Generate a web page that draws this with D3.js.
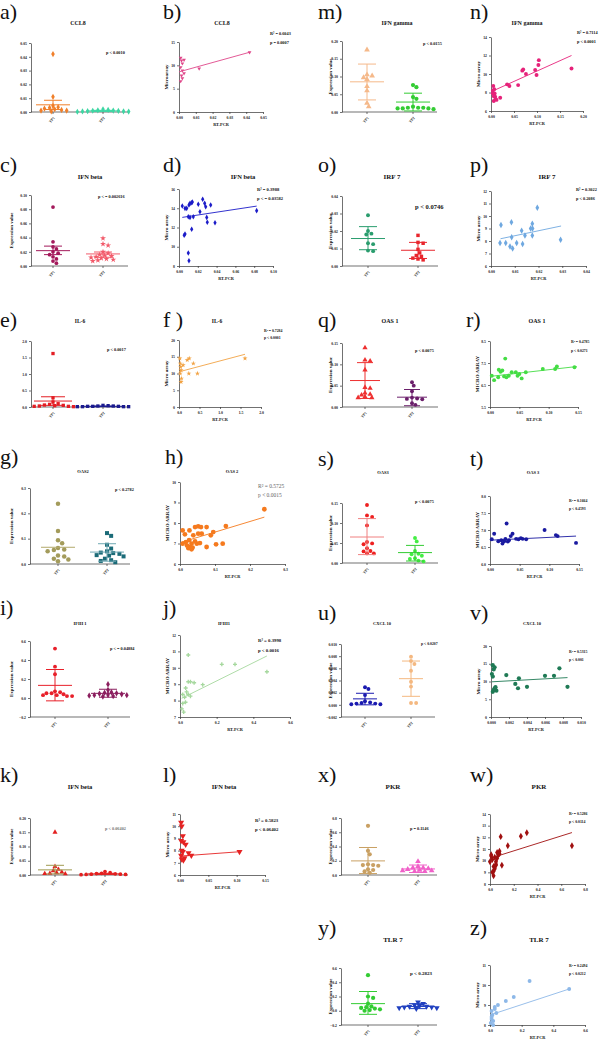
<!DOCTYPE html>
<html><head><meta charset="utf-8">
<script src="https://cdn.jsdelivr.net/npm/d3@7"></script>
<style>body{margin:0;background:#fff}svg{display:block}</style>
</head><body><svg id="c" width="600" height="1041"></svg>
<script>
// ---------------- DATA ----------------
const groups = ["TP1", "TP2"];
// a) CCL8
const a_TP1 = [0.042, 0.011, 0.0045, 0.0035, 0.003, 0.0025, 0.002, 0.0015, 0.001, 0.001, 0.0005];
const a_TP2 = [0.002, 0.0015, 0.0012, 0.001, 0.0009, 0.0008, 0.0006, 0.0005, 0.0004, 0.0003, 0.0002];
const a_mean = [0.0052, 0.0008], a_lo = [0.0018, 0.0004], a_hi = [0.0085, 0.0012];
const a_ticks = [0, 0.01, 0.02, 0.03, 0.04, 0.05];
// b) CCL8 regression
const b_x = [0.001, 0.0015, 0.002, 0.001, 0.002, 0.003, 0.0015, 0.002, 0.001, 0.003, 0.012, 0.042];
const b_y = [11.6, 11.0, 10.4, 9.6, 8.9, 8.3, 7.8, 7.2, 6.6, 11.2, 9.3, 12.8];
const b_fit = [8.6, 100, 0, 0.042];
const b_xticks = [0, 0.01, 0.02, 0.03, 0.04, 0.05], b_yticks = [0, 5, 10, 15];
// c) IFN beta
const c_TP1 = [0.083, 0.034, 0.027, 0.024, 0.02, 0.018, 0.016, 0.013, 0.01, 0.007, 0.004];
const c_TP2 = [0.039, 0.031, 0.029, 0.02, 0.018, 0.016, 0.015, 0.014, 0.013, 0.012, 0.011, 0.01, 0.009, 0.008, 0.007];
const c_mean = [0.0216, 0.017], c_lo = [0.016, 0.0123], c_hi = [0.028, 0.0197];
const c_ticks = [0, 0.02, 0.04, 0.06, 0.08, 0.10];
// d) IFN beta regression
const d_x = [0.0035, 0.0064, 0.0106, 0.0117, 0.0135, 0.0142, 0.0082, 0.0205, 0.0252, 0.0273, 0.0284, 0.0337, 0.0223, 0.0099, 0.0117, 0.0152, 0.0295, 0.0301, 0.0383, 0.0135, 0.0064, 0.0826, 0.0055, 0.0099, 0.0106];
const d_y = [14.23, 13.99, 14.34, 14.51, 14.58, 14.65, 13.99, 14.41, 14.93, 14.51, 14.16, 14.34, 13.64, 13.12, 13.05, 13.12, 13.05, 12.54, 12.50, 11.81, 11.32, 13.75, 11.19, 9.35, 8.55];
const d_fit = [13.0, 14.8, 0.0035, 0.0826];
const d_xticks = [0, 0.02, 0.04, 0.06, 0.08, 0.10], d_yticks = [8, 10, 12, 14, 16];
// e) IL-6
const e_TP1 = [1.62, 0.28, 0.15, 0.1, 0.08, 0.06, 0.05, 0.04, 0.03, 0.02, 0.02, 0.01];
const e_TP2 = [0.05, 0.04, 0.03, 0.03, 0.02, 0.02, 0.02, 0.01, 0.01, 0.01, 0.01];
const e_mean = [0.18, 0.02], e_lo = [0.05, 0.01], e_hi = [0.31, 0.03];
const e_ticks = [0, 0.5, 1.0, 1.5, 2.0];
// f) IL-6 regression
const f_x = [0.02, 0.03, 0.04, 0.05, 0.03, 0.06, 0.05, 0.1, 0.2, 0.25, 0.35, 0.45, 0.24, 1.61];
const f_y = [14.5, 13, 12, 11, 10, 8.5, 7.5, 12.5, 14, 14.5, 13, 10, 10, 14.5];
const f_fit = [10.5, 3.25, 0, 1.61];
const f_xticks = [0, 0.5, 1.0, 1.5, 2.0], f_yticks = [0, 5, 10, 15, 20];
// g) OAS2
const g_TP1 = [0.238, 0.13, 0.094, 0.082, 0.063, 0.057, 0.055, 0.05, 0.034, 0.03, 0.021, 0.018, 0.011];
const g_TP2 = [0.122, 0.111, 0.076, 0.061, 0.05, 0.045, 0.043, 0.04, 0.035, 0.033, 0.03, 0.021, 0.015, 0.012, 0.007];
const g_mean = [0.066, 0.047], g_lo = [null, 0.011], g_hi = [null, 0.08];
const g_ticks = [0, 0.1, 0.2, 0.3];
// h) OAS 2 regression
const h_x = [0.0076, 0.026, 0.017, 0.0076, 0.027, 0.038, 0.043, 0.052, 0.06, 0.052, 0.062, 0.029, 0.033, 0.024, 0.033, 0.048, 0.043, 0.076, 0.088, 0.095, 0.076, 0.103, 0.122, 0.131, 0.241, 0.014, 0.057, 0.02, 0.036];
const h_y = [7.64, 7.16, 7.07, 6.99, 7.64, 7.40, 7.80, 7.84, 7.80, 7.48, 7.48, 6.83, 6.72, 6.77, 6.99, 6.99, 7.1, 7.80, 7.40, 7.56, 6.83, 6.96, 6.99, 7.85, 8.67, 7.45, 7.02, 6.9, 6.8];
const h_fit = [7.04, 5.17, 0.005, 0.241];
const h_xticks = [0, 0.1, 0.2, 0.3], h_yticks = [6, 7, 8, 9, 10];
// i) IFIH 1
const i_TP1 = [0.52, 0.33, 0.25, 0.07, 0.06, 0.05, 0.05, 0.04, 0.03, 0.03, 0.02, 0.02];
const i_TP2 = [0.145, 0.085, 0.06, 0.055, 0.05, 0.045, 0.04, 0.035, 0.03, 0.03, 0.025, 0.02, 0.015];
const i_mean = [0.133, 0.049], i_lo = [-0.03, 0.008], i_hi = [0.3, 0.092];
const i_ticks = [-0.2, 0, 0.2, 0.4, 0.6];
// j) IFIH1 regression
const j_x = [0.045, 0.045, 0.057, 0.077, 0.124, 0.031, 0.036, 0.015, 0.045, 0.057, 0.025, 0.015, 0.228, 0.30, 0.474, 0.01, 0.02, 0.03];
const j_y = [10.78, 9.15, 9.15, 9.09, 8.97, 8.77, 8.53, 8.37, 8.37, 8.27, 8.2, 7.83, 10.21, 10.21, 9.76, 7.5, 7.3, 7.9];
const j_fit = [8.09, 5.55, 0.009, 0.474];
const j_xticks = [0, 0.2, 0.4, 0.6], j_yticks = [7, 8, 9, 10, 11, 12];
// k) IFN beta
const k_TP1 = [0.15, 0.03, 0.02, 0.015, 0.01, 0.008, 0.006, 0.005, 0.004];
const k_TP2 = [0.012, 0.008, 0.006, 0.005, 0.004, 0.003, 0.003, 0.002, 0.002, 0.001];
const k_mean = [0.018, 0.004], k_lo = [0.004, 0.002], k_hi = [0.034, 0.006];
const k_ticks = [0, 0.05, 0.10, 0.15, 0.20];
// l) IFN beta regression
const l_x = [0.002, 0.003, 0.005, 0.002, 0.006, 0.01, 0.003, 0.005, 0.002, 0.008, 0.003, 0.006, 0.02, 0.015, 0.105];
const l_y = [10.3, 10.0, 9.2, 8.8, 8.7, 8.5, 8.0, 7.9, 7.6, 7.4, 7.3, 7.2, 7.6, 7.8, 7.9];
const l_fit = [7.55, 3.4, 0, 0.105];
const l_xticks = [0, 0.05, 0.10, 0.15], l_yticks = [6, 7, 8, 9, 10, 11];
// m) IFN gamma
const m_TP1 = [0.175, 0.105, 0.102, 0.097, 0.092, 0.072, 0.06, 0.025, 0.015];
const m_TP2 = [0.076, 0.07, 0.042, 0.037, 0.015, 0.012, 0.012, 0.01, 0.01, 0.008, 0.012, 0.01];
const m_mean = [0.085, 0.028], m_lo = [0.034, 0.003], m_hi = [0.135, 0.053];
const m_ticks = [0, 0.05, 0.10, 0.15, 0.20];
// n) IFN gamma regression
const n_x = [0.005, 0.007, 0.008, 0.009, 0.01, 0.02, 0.006, 0.012, 0.004, 0.006, 0.004, 0.035, 0.040, 0.059, 0.068, 0.07, 0.076, 0.096, 0.099, 0.103, 0.104, 0.175];
const n_y = [8.7, 8.35, 7.9, 7.55, 7.3, 7.44, 7.08, 7.2, 7.9, 7.6, 8.2, 8.88, 8.7, 8.8, 10.36, 10.5, 10.0, 10.43, 9.9, 10.97, 11.5, 10.6];
const n_fit = [8.08, 22.4, 0.005, 0.175];
const n_xticks = [0, 0.05, 0.10, 0.15, 0.20], n_yticks = [6, 8, 10, 12, 14];
// o) IRF 7
const o_TP1 = [0.029, 0.020, 0.0185, 0.018, 0.013, 0.0125, 0.0088, 0.0085];
const o_TP2 = [0.0175, 0.0135, 0.013, 0.0095, 0.0075, 0.006, 0.0055, 0.0045, 0.004, 0.0035];
const o_mean = [0.0157, 0.009], o_lo = [0.0093, 0.0043], o_hi = [0.0225, 0.0135];
const o_ticks = [0, 0.01, 0.02, 0.03, 0.04];
// p) IRF 7 regression
const p_x = [0.0042, 0.0086, 0.0129, 0.0167, 0.0175, 0.0174, 0.0195, 0.0038, 0.0062, 0.0087, 0.008, 0.0091, 0.0108, 0.0133, 0.0143, 0.0174, 0.0293];
const p_y = [9.28, 9.5, 8.83, 9.0, 9.0, 9.38, 10.66, 7.84, 7.84, 8.3, 7.56, 7.4, 7.84, 7.76, 8.44, 8.44, 8.1];
const p_fit = [8.02, 40, 0.004, 0.0295];
const p_xticks = [0, 0.01, 0.02, 0.03, 0.04], p_yticks = [6, 7, 8, 9, 10, 11, 12];
// q) OAS 1
const q_TP1 = [0.139, 0.11, 0.108, 0.087, 0.046, 0.044, 0.033, 0.03, 0.028, 0.024, 0.022, 0.022];
const q_TP2 = [0.058, 0.05, 0.037, 0.022, 0.02, 0.019, 0.018, 0.009, 0.005];
const q_mean = [0.062, 0.023], q_lo = [0.02, 0.003], q_hi = [0.104, 0.041];
const q_ticks = [0, 0.05, 0.10, 0.15];
// r) OAS 1 regression
const r_x = [0.003, 0.007, 0.014, 0.015, 0.018, 0.021, 0.026, 0.024, 0.028, 0.032, 0.037, 0.044, 0.047, 0.05, 0.054, 0.061, 0.09, 0.111, 0.114, 0.144];
const r_y = [6.92, 6.72, 6.85, 7.19, 7.1, 7.16, 7.7, 6.89, 6.85, 6.92, 7.08, 7.08, 6.92, 7.0, 6.8, 7.08, 7.23, 7.23, 7.34, 7.31];
const r_fit = [6.89, 3.04, 0, 0.148];
const r_xticks = [0, 0.05, 0.10, 0.15], r_yticks = [5.5, 6.5, 7.5, 8.5];
// s) OAS3
const s_TP1 = [0.145, 0.119, 0.115, 0.094, 0.0525, 0.047, 0.049, 0.037, 0.029, 0.03, 0.024, 0.024];
const s_TP2 = [0.0625, 0.054, 0.03, 0.023, 0.022, 0.018, 0.012, 0.01, 0.006, 0.004];
const s_mean = [0.065, 0.026], s_lo = [0.021, 0.005], s_hi = [0.111, 0.044];
const s_ticks = [0, 0.05, 0.10, 0.15];
// t) OAS 3 regression
const t_x = [0.003, 0.007, 0.014, 0.019, 0.021, 0.024, 0.026, 0.028, 0.03, 0.032, 0.035, 0.038, 0.044, 0.048, 0.052, 0.055, 0.061, 0.092, 0.111, 0.114, 0.145];
const t_y = [6.73, 6.89, 6.67, 6.70, 6.60, 6.67, 6.74, 7.19, 6.66, 6.70, 6.82, 6.89, 6.74, 6.73, 6.76, 6.74, 6.73, 7.0, 6.85, 6.82, 6.62];
const t_fit = [6.70, 0.83, 0, 0.145];
const t_xticks = [0, 0.05, 0.10, 0.15], t_yticks = [6.0, 6.5, 7.0, 7.5, 8.0];
// u) CXCL 10
const u_TP1 = [0.0029, 0.0026, 0.0016, 0.0006, 0.0004, 0.0003, 0.0002, 0.0002, 0.0001, 0.0001];
const u_TP2 = [0.0079, 0.0072, 0.0067, 0.0056, 0.0038, 0.003, 0.0003, 0.0003];
const u_mean = [0.00098, 0.0043], u_lo = [0.0, 0.0014], u_hi = [0.0019, 0.0072];
const u_ticks = [-0.002, 0, 0.002, 0.004, 0.006, 0.008, 0.010];
// v) CXCL 10 regression
const v_x = [0.0001, 0.0002, 0.0002, 0.0004, 0.0003, 0.0002, 0.0004, 0.0006, 0.0005, 0.0003, 0.0017, 0.0027, 0.003, 0.0031, 0.004, 0.006, 0.007, 0.0076, 0.0085];
const v_y = [12.1, 11.4, 14.6, 14.0, 13.4, 7.1, 8.1, 7.4, 8.4, 7.6, 11.8, 9.3, 8.1, 10.9, 8.5, 11.6, 11.6, 13.7, 8.5];
const v_fit = [9.9, 141, 0.0001, 0.0085];
const v_xticks = [0, 0.002, 0.004, 0.006, 0.008, 0.010], v_yticks = [0, 5, 10, 15, 20];
// x) PKR
const x_TP1 = [0.69, 0.34, 0.29, 0.15, 0.14, 0.14, 0.13, 0.08, 0.07, 0.05, 0.03];
const x_TP2 = [0.19, 0.12, 0.1, 0.1, 0.09, 0.08, 0.07, 0.06, 0.06, 0.05, 0.05];
const x_mean = [0.198, 0.085], x_lo = [0.02, 0.035], x_hi = [0.386, 0.14];
const x_ticks = [0, 0.2, 0.4, 0.6, 0.8];
// w) PKR regression
const w_x = [0.0, 0.01, 0.02, 0.03, 0.04, 0.05, 0.06, 0.07, 0.08, 0.1, 0.02, 0.03, 0.05, 0.04, 0.06, 0.09, 0.15, 0.26, 0.31, 0.69, 0.08, 0.01, 0.03, 0.05];
const w_y = [9.9, 10.4, 10.1, 9.5, 9.3, 9.7, 10.2, 10.5, 10.6, 9.6, 9.0, 8.7, 9.9, 10.3, 10.7, 12.06, 11.27, 12.1, 12.4, 11.27, 10.8, 10.5, 9.1, 9.6];
const w_fit = [10.2, 3.2, 0, 0.69];
const w_xticks = [0, 0.2, 0.4, 0.6, 0.8], w_yticks = [8, 9, 10, 11, 12, 13, 14];
// y) TLR 7
const y_TP1 = [0.5, 0.2, 0.18, 0.1, 0.06, 0.05, 0.04, 0.03, 0.02, 0.01, 0.0];
const y_TP2 = [0.12, 0.1, 0.08, 0.07, 0.06, 0.06, 0.05, 0.05, 0.04, 0.04, 0.03];
const y_mean = [0.1, 0.06], y_lo = [-0.05, 0.03], y_hi = [0.27, 0.1];
const y_ticks = [-0.2, 0, 0.2, 0.4, 0.6];
// z) TLR 7 regression
const z_x = [0.005, 0.01, 0.015, 0.02, 0.01, 0.03, 0.02, 0.04, 0.05, 0.01, 0.1, 0.15, 0.25, 0.5, 0.03];
const z_y = [8.1, 8.3, 8.5, 8.2, 8.7, 8.9, 8.0, 8.6, 9.0, 8.4, 9.2, 9.4, 10.2, 9.8, 8.8];
const z_fit = [8.5, 2.6, 0, 0.5];
const z_xticks = [0, 0.2, 0.4, 0.6], z_yticks = [8, 9, 10, 11];

// ---------------- DRAWING ----------------
const F = '"Liberation Serif","Times New Roman",serif';
const svg = d3.select("#c").attr("font-family", F);

const SYM = {
  circle: d3.symbolCircle, square: d3.symbolSquare, triangle: d3.symbolTriangle,
  diamond: d3.symbolDiamond, star: d3.symbolStar, cross: d3.symbolCross, tri2: d3.symbolTriangle
};
function sym(g, x, y, shape, color, size) {
  g.append("path").attr("d", d3.symbol().type(SYM[shape]).size(size)())
    .attr("transform", `translate(${x},${y})` + (shape === "tri2" ? " rotate(180)" : ""))
    .attr("fill", color);
}
function styleAxis(g, fs) {
  g.selectAll("text").attr("font-size", fs).attr("font-weight", "bold").attr("font-family", F).attr("fill", "#222");
  g.selectAll("path,line").attr("stroke", "#333").attr("stroke-width", 0.7);
}
function txt(s, x, y, fs, opt = {}) {
  const t = svg.append("text").attr("x", x).attr("y", y).attr("font-size", fs)
    .attr("font-weight", opt.weight || "bold").attr("fill", opt.color || "#111")
    .attr("text-anchor", opt.anchor || "start").text(s);
  if (opt.rot) t.attr("transform", `rotate(${opt.rot},${x},${y})`);
  return t;
}
function heading(p) {
  txt(p.lab, p.lx, p.ly, 22, { weight: "normal" });
  txt(p.title, p.tx, p.ty, p.tfs || 6, { anchor: "middle" });
}
function swarm(vals, y, cx, r) {
  const pts = vals.map(v => ({ v, py: y(v) })).sort((a, b) => a.py - b.py);
  const placed = [];
  pts.forEach(p => {
    let off = 0;
    for (let k = 0; k < 60; k++) {
      off = k === 0 ? 0 : (k % 2 ? 1 : -1) * Math.ceil(k / 2) * r * 0.9;
      const ok = placed.every(q => (q.px - (cx + off)) ** 2 + (q.py - p.py) ** 2 >= (2 * r) ** 2);
      if (ok) break;
    }
    p.px = cx + off; placed.push(p);
  });
  return placed;
}

function dotPanel(p) {
  heading(p);
  const g = svg.append("g");
  const y = d3.scaleLinear().domain(p.dom).range([p.yBot, p.yTop]);
  const x = d3.scalePoint().domain(groups).range(p.cx);
  const ya = g.append("g").attr("transform", `translate(${p.x0},0)`)
    .call(d3.axisLeft(y).tickValues(p.ticks).tickFormat(d3.format(p.fmt)).tickSize(2).tickPadding(2).tickSizeOuter(0));
  styleAxis(ya, 3.8);
  g.append("line").attr("x1", p.x0).attr("x2", p.x1).attr("y1", p.yBot).attr("y2", p.yBot).attr("stroke", "#333").attr("stroke-width", 0.7);
  groups.forEach((gr, gi) => {
    const cx = x(gr);
    g.append("line").attr("x1", cx).attr("x2", cx).attr("y1", p.yBot).attr("y2", p.yBot + 2).attr("stroke", "#333").attr("stroke-width", 0.7);
    txt(gr, cx + 2, p.yBot + 6, 3.8, { anchor: "end", rot: -50, color: "#333" });
    const col = p.col[gi], mc = (p.mcol || p.col)[gi];
    swarm(p.data[gi], y, cx, p.r || 1.9).forEach(d => sym(g, d.px, d.py, p.shp[gi], col, p.sz || 11));
    const mw = p.mw || 17, cw = p.cw || 9;
    g.append("line").attr("x1", cx - mw).attr("x2", cx + mw).attr("y1", y(p.mean[gi])).attr("y2", y(p.mean[gi])).attr("stroke", mc).attr("stroke-width", 1);
    if (p.lo[gi] !== null) {
      g.append("line").attr("x1", cx).attr("x2", cx).attr("y1", y(p.lo[gi])).attr("y2", y(p.hi[gi])).attr("stroke", mc).attr("stroke-width", 1);
      [p.lo[gi], p.hi[gi]].forEach(v => g.append("line").attr("x1", cx - cw).attr("x2", cx + cw).attr("y1", y(v)).attr("y2", y(v)).attr("stroke", mc).attr("stroke-width", 1));
    }
  });
  txt(p.p, p.px, p.py, p.pfs || 4.3, { color: p.pcol || "#111" });
  if (p.ylab) txt("Expression value", p.ylx, (p.yTop + p.yBot) / 2, p.yfs || 5, { anchor: "middle", rot: -90 });
}

function regPanel(p) {
  heading(p);
  const g = svg.append("g");
  const x = d3.scaleLinear().domain([p.xt[0], p.xt[p.xt.length - 1]]).range([p.x0, p.x1]);
  const y = d3.scaleLinear().domain([p.yt[0], p.yt[p.yt.length - 1]]).range([p.yBot, p.yTop]);
  const ya = g.append("g").attr("transform", `translate(${p.x0},0)`)
    .call(d3.axisLeft(y).tickValues(p.yt).tickFormat(d3.format(p.yfmt)).tickSize(2).tickPadding(2).tickSizeOuter(0));
  styleAxis(ya, 3.8);
  const xa = g.append("g").attr("transform", `translate(0,${p.yBot})`)
    .call(d3.axisBottom(x).tickValues(p.xt).tickFormat(d3.format(p.xfmt)).tickSize(2).tickPadding(2).tickSizeOuter(0));
  styleAxis(xa, 3.8);
  p.xs.forEach((v, i) => sym(g, x(v), y(p.ys[i]), p.shp, p.col, p.sz || 11));
  const f = p.fit;
  g.append("line").attr("x1", x(f[2])).attr("x2", x(f[3])).attr("y1", y(f[0] + f[1] * f[2])).attr("y2", y(f[0] + f[1] * f[3]))
    .attr("stroke", p.col).attr("stroke-width", 0.9);
  txt(p.r2, p.rx, p.ry, p.rfs || 4.3, { color: p.rcol || "#111", weight: p.rw || "bold" });
  txt(p.pv, p.rx, p.ry + (p.rgap || 9), p.rfs || 4.3, { color: p.rcol || "#111", weight: p.rw || "bold" });
  txt(p.ylab, p.ylx || p.x0 - 11, (p.yTop + p.yBot) / 2, p.yfs || 5, { anchor: "middle", rot: -90 });
  txt("RT-PCR", (p.x0 + p.x1) / 2, p.yBot + 14, 4.3, { anchor: "middle" });
}

// ---------- left column ----------
dotPanel({ lab: "a)", lx: 0, ly: 19, title: "CCL8", tx: 78, ty: 25, tfs: 6, x0: 31, x1: 128, cx: [53, 103], yTop: 43, yBot: 112,
  dom: [0, 0.05], ticks: a_ticks, fmt: ".2f", data: [a_TP1, a_TP2], mean: a_mean, lo: a_lo, hi: a_hi,
  col: ["#f07f2a", "#3dd6a3"], shp: ["diamond", "diamond"], p: "p < 0.0010", px: 106, py: 54 });
regPanel({ lab: "b)", lx: 163, ly: 19, title: "CCL8", tx: 222, ty: 25, tfs: 6, x0: 179, x1: 263, yTop: 42, yBot: 112,
  xt: b_xticks, xfmt: ".2f", yt: b_yticks, yfmt: "d", xs: b_x, ys: b_y, fit: b_fit, col: "#e0478a", shp: "tri2", sz: 6,
  r2: "R² = 0.6043", pv: "p = 0.0007", rx: 270, ry: 35, ylab: "Microarray" });

dotPanel({ lab: "c)", lx: 0, ly: 172, title: "IFN beta", tx: 90, ty: 179, tfs: 6.5, x0: 31, x1: 128, cx: [53, 103], yTop: 195, yBot: 266,
  dom: [0, 0.10], ticks: c_ticks, fmt: ".2f", data: [c_TP1, c_TP2], mean: c_mean, lo: c_lo, hi: c_hi,
  col: ["#a3195b", "#f25a6a"], shp: ["circle", "star"], p: "p < = 0.002616", px: 98, py: 198, ylab: true, ylx: 13 });
regPanel({ lab: "d)", lx: 163, ly: 172, title: "IFN beta", tx: 243, ty: 179, tfs: 6.5, x0: 179, x1: 273, yTop: 189, yBot: 266,
  xt: d_xticks, xfmt: ".2f", yt: d_yticks, yfmt: "d", xs: d_x, ys: d_y, fit: d_fit, col: "#1c1cc8", shp: "diamond", sz: 9,
  r2: "R² = 0.3988", pv: "p < = 0.03582", rx: 257, ry: 191, rfs: 4.6, ylab: "Micro array" });

dotPanel({ lab: "e)", lx: 0, ly: 327, title: "IL-6", tx: 80, ty: 323, tfs: 5.5, x0: 31, x1: 128, cx: [53, 103], yTop: 341, yBot: 407,
  dom: [0, 2.0], ticks: e_ticks, fmt: ".1f", data: [e_TP1, e_TP2], mean: e_mean, lo: e_lo, hi: e_hi, mw: 19, cw: 12,
  col: ["#e31e24", "#1b1b8f"], shp: ["square", "square"], p: "p < 0.0017", px: 107, py: 351 });
regPanel({ lab: "f )", lx: 163, ly: 327, title: "IL-6", tx: 217, ty: 323, tfs: 5.5, x0: 179, x1: 261, yTop: 340, yBot: 407,
  xt: f_xticks, xfmt: ".1f", yt: f_yticks, yfmt: "d", xs: f_x, ys: f_y, fit: f_fit, col: "#f2a344", shp: "star", sz: 8,
  r2: "R² = 0.7284", pv: "p < 0.0001", rx: 264, ry: 332, rfs: 3.8, rgap: 7, ylab: "Micro array" });

dotPanel({ lab: "g)", lx: 0, ly: 464, title: "OAS2", tx: 83, ty: 473, tfs: 4.5, x0: 30, x1: 130, cx: [58, 107], yTop: 488, yBot: 564,
  dom: [0, 0.3], ticks: g_ticks, fmt: ".1f", data: [g_TP1, g_TP2], mean: g_mean, lo: g_lo, hi: g_hi, r: 2.3, sz: 16,
  col: ["#a39b5b", "#1b6b78"], mcol: ["#b3a96b", "#6fa8b3"], shp: ["circle", "square"], p: "p < 0.2782", px: 115, py: 491, ylab: true, ylx: 13 });
regPanel({ lab: "h)", lx: 165, ly: 464, title: "OAS 2", tx: 232, ty: 473, tfs: 4.5, x0: 180, x1: 285, yTop: 482, yBot: 564,
  xt: h_xticks, xfmt: ".1f", yt: h_yticks, yfmt: "d", xs: h_x, ys: h_y, fit: h_fit, col: "#f57a1e", shp: "circle", sz: 18,
  r2: "R² = 0.5725", pv: "p < 0.0015", rx: 258, ry: 488, rfs: 5.5, rgap: 9, rcol: "#666", rw: "normal", ylab: "MICRO ARRAY" });

dotPanel({ lab: "i)", lx: 0, ly: 615, title: "IFIH 1", tx: 80, ty: 625, tfs: 4.5, x0: 30, x1: 130, cx: [55, 108], yTop: 641, yBot: 717,
  dom: [-0.2, 0.6], ticks: i_ticks, fmt: ".1f", data: [i_TP1, i_TP2], mean: i_mean, lo: i_lo, hi: i_hi, sz: 12,
  col: ["#e8202a", "#8b1e5e"], shp: ["circle", "diamond"], p: "p < = 0.04884", px: 110, py: 650, ylab: true, ylx: 13 });
regPanel({ lab: "j)", lx: 163, ly: 615, title: "IFIH1", tx: 224, ty: 625, tfs: 4.5, x0: 180, x1: 290, yTop: 635, yBot: 717,
  xt: j_xticks, xfmt: ".1f", yt: j_yticks, yfmt: "d", xs: j_x, ys: j_y, fit: j_fit, col: "#a6d89e", shp: "cross", sz: 9,
  r2: "R² = 0.3998", pv: "p < 0.0016", rx: 258, ry: 642, rfs: 4.8, rgap: 10, ylab: "MICRO ARRAY" });

dotPanel({ lab: "k)", lx: 0, ly: 782, title: "IFN beta", tx: 80, ty: 789, tfs: 6.5, x0: 30, x1: 128, cx: [55, 105], yTop: 818, yBot: 875,
  dom: [0, 0.20], ticks: k_ticks, fmt: ".2f", data: [k_TP1, k_TP2], mean: k_mean, lo: k_lo, hi: k_hi,
  col: ["#e32020", "#e32020"], mcol: ["#a09a50", "#e32020"], shp: ["triangle", "circle"], p: "p < 0.06402", px: 105, py: 830, pcol: "#777", ylab: true, ylx: 13 });
regPanel({ lab: "l)", lx: 163, ly: 782, title: "IFN beta", tx: 224, ty: 789, tfs: 6.5, x0: 180, x1: 265, yTop: 814, yBot: 875,
  xt: l_xticks, xfmt: ".2f", yt: l_yticks, yfmt: "d", xs: l_x, ys: l_y, fit: l_fit, col: "#e52222", shp: "tri2", sz: 16,
  r2: "R² = 0.5823", pv: "p < 0.06402", rx: 255, ry: 822, rfs: 4.8, ylab: "Micro array" });

// ---------- right column ----------
dotPanel({ lab: "m)", lx: 318, ly: 19, title: "IFN gamma", tx: 397, ty: 25, tfs: 6, x0: 342, x1: 437, cx: [367, 413], yTop: 41, yBot: 112,
  dom: [0, 0.20], ticks: m_ticks, fmt: ".2f", data: [m_TP1, m_TP2], mean: m_mean, lo: m_lo, hi: m_hi, sz: 14,
  col: ["#f5b98a", "#33cc33"], shp: ["triangle", "circle"], p: "p < 0.0155", px: 423, py: 45, ylab: true, ylx: 332 });
regPanel({ lab: "n)", lx: 470, ly: 19, title: "IFN gamma", tx: 527, ty: 25, tfs: 6, x0: 491, x1: 583, yTop: 37, yBot: 111,
  xt: n_xticks, xfmt: ".2f", yt: n_yticks, yfmt: "d", xs: n_x, ys: n_y, fit: n_fit, col: "#e6227a", shp: "circle", sz: 12,
  r2: "R² = 0.7114", pv: "p < 0.0001", rx: 577, ry: 34, ylab: "Micro array" });

dotPanel({ lab: "o)", lx: 318, ly: 172, title: "IRF 7", tx: 392, ty: 179, tfs: 7, x0: 342, x1: 438, cx: [368, 418], yTop: 196, yBot: 266,
  dom: [0, 0.04], ticks: o_ticks, fmt: ".2f", data: [o_TP1, o_TP2], mean: o_mean, lo: o_lo, hi: o_hi, sz: 12,
  col: ["#2a9d6e", "#e8262d"], shp: ["circle", "square"], p: "p < 0.0746", px: 415, py: 209, pfs: 6.5, ylab: true, ylx: 332 });
regPanel({ lab: "p)", lx: 470, ly: 172, title: "IRF 7", tx: 547, ty: 179, tfs: 7, x0: 491, x1: 586, yTop: 191, yBot: 266,
  xt: p_xticks, xfmt: ".2f", yt: p_yticks, yfmt: "d", xs: p_x, ys: p_y, fit: p_fit, col: "#6fa8e0", shp: "diamond", sz: 12,
  r2: "R² = 0.3022", pv: "p < 0.2086", rx: 576, ry: 191, ylab: "Micro array" });

dotPanel({ lab: "q)", lx: 318, ly: 327, title: "OAS 1", tx: 390, ty: 323, tfs: 6, x0: 342, x1: 438, cx: [365, 412], yTop: 343, yBot: 407,
  dom: [0, 0.15], ticks: q_ticks, fmt: ".2f", data: [q_TP1, q_TP2], mean: q_mean, lo: q_lo, hi: q_hi, mw: 15, cw: 8, sz: 12,
  col: ["#ee3030", "#6b1f6b"], shp: ["triangle", "circle"], p: "p < 0.0075", px: 415, py: 352, ylab: true, ylx: 332 });
regPanel({ lab: "r)", lx: 466, ly: 327, title: "OAS 1", tx: 537, ty: 323, tfs: 6, x0: 490, x1: 578, yTop: 341, yBot: 407,
  xt: r_xticks, xfmt: ".2f", yt: r_yticks, yfmt: ".1f", xs: r_x, ys: r_y, fit: r_fit, col: "#44dd44", shp: "circle", sz: 12,
  r2: "R² = 0.4785", pv: "p < 0.0271", rx: 571, ry: 343, rfs: 3.8, ylab: "MICRO ARRAY" });

dotPanel({ lab: "s)", lx: 318, ly: 466, title: "OAS3", tx: 383, ty: 474, tfs: 4.5, x0: 342, x1: 438, cx: [367, 415], yTop: 503, yBot: 563,
  dom: [0, 0.15], ticks: s_ticks, fmt: ".2f", data: [s_TP1, s_TP2], mean: s_mean, lo: s_lo, hi: s_hi, sz: 12,
  col: ["#ee2020", "#44ee44"], mcol: ["#f08080", "#33cc33"], shp: ["circle", "circle"], p: "p < 0.0075", px: 415, py: 503, ylab: true, ylx: 332 });
regPanel({ lab: "t)", lx: 470, ly: 466, title: "OAS 3", tx: 533, ty: 474, tfs: 4.5, x0: 490, x1: 579, yTop: 496, yBot: 564,
  xt: t_xticks, xfmt: ".2f", yt: t_yticks, yfmt: ".1f", xs: t_x, ys: t_y, fit: t_fit, col: "#1a1aa0", shp: "circle", sz: 12,
  r2: "R² = 0.1664", pv: "p < 0.4593", rx: 569, ry: 502, rfs: 3.8, rgap: 8, ylab: "MICRO ARRAY" });

dotPanel({ lab: "u)", lx: 318, ly: 620, title: "CXCL 10", tx: 382, ty: 625, tfs: 4.5, x0: 341, x1: 435, cx: [365, 411], yTop: 644, yBot: 717,
  dom: [-0.002, 0.010], ticks: u_ticks, fmt: ".3f", data: [u_TP1, u_TP2], mean: u_mean, lo: u_lo, hi: u_hi, mw: 12, sz: 12,
  col: ["#1a1ab0", "#f4b880"], mcol: ["#1a1ab0", "#f4b880"], shp: ["circle", "circle"], p: "p < 0.0207", px: 421, py: 645, pfs: 3.8, ylab: true, ylx: 332 });
regPanel({ lab: "v)", lx: 470, ly: 620, title: "CXCL 10", tx: 532, ty: 625, tfs: 4.5, x0: 491, x1: 581, yTop: 646, yBot: 717,
  xt: v_xticks, xfmt: ".3f", yt: v_yticks, yfmt: "d", xs: v_x, ys: v_y, fit: v_fit, col: "#1f7a55", shp: "circle", sz: 14,
  r2: "R² = 0.5315", pv: "p < 0.001", rx: 569, ry: 653, rfs: 3.8, rgap: 8, ylab: "Micro array" });

dotPanel({ lab: "x)", lx: 318, ly: 782, title: "PKR", tx: 393, ty: 789, tfs: 7, x0: 341, x1: 437, cx: [368, 418], yTop: 818, yBot: 875,
  dom: [0, 0.8], ticks: x_ticks, fmt: ".1f", data: [x_TP1, x_TP2], mean: x_mean, lo: x_lo, hi: x_hi, sz: 14,
  col: ["#c9a063", "#f060c8"], shp: ["circle", "triangle"], p: "p = 0.1146", px: 410, py: 830, ylab: true, ylx: 332 });
regPanel({ lab: "w)", lx: 470, ly: 782, title: "PKR", tx: 539, ty: 789, tfs: 7, x0: 490, x1: 585, yTop: 814, yBot: 884,
  xt: w_xticks, xfmt: ".1f", yt: w_yticks, yfmt: "d", xs: w_x, ys: w_y, fit: w_fit, col: "#a01010", shp: "diamond", sz: 14,
  r2: "R² = 0.5286", pv: "p < 0.0114", rx: 569, ry: 815, rfs: 3.8, rgap: 8, ylab: "Micro array" });

dotPanel({ lab: "y)", lx: 318, ly: 935, title: "TLR 7", tx: 393, ty: 942, tfs: 7, x0: 341, x1: 437, cx: [368, 418], yTop: 968, yBot: 1025,
  dom: [-0.2, 0.6], ticks: y_ticks, fmt: ".1f", data: [y_TP1, y_TP2], mean: y_mean, lo: y_lo, hi: y_hi, sz: 14,
  col: ["#33cc33", "#2040c0"], shp: ["circle", "tri2"], p: "p < 0.2823", px: 410, py: 975, pfs: 5, ylab: true, ylx: 332 });
regPanel({ lab: "z)", lx: 470, ly: 935, title: "TLR 7", tx: 539, ty: 942, tfs: 7, x0: 490, x1: 585, yTop: 965, yBot: 1025,
  xt: z_xticks, xfmt: ".1f", yt: z_yticks, yfmt: "d", xs: z_x, ys: z_y, fit: z_fit, col: "#8db8e8", shp: "circle", sz: 12,
  r2: "R² = 0.2494", pv: "p < 0.0212", rx: 569, ry: 967, rfs: 3.8, rgap: 8, ylab: "Micro array" });
</script></body></html>
